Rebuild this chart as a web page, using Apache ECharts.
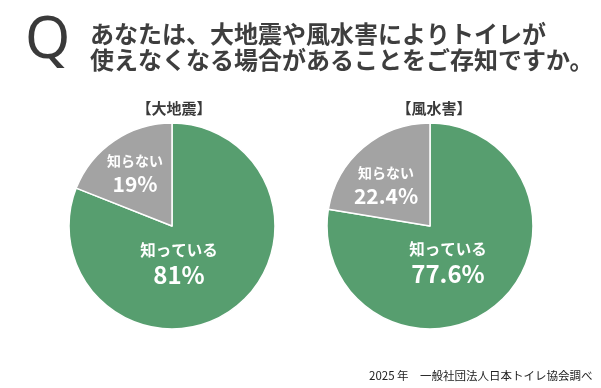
<!DOCTYPE html>
<html><head><meta charset="utf-8">
<script src="https://cdn.jsdelivr.net/npm/echarts@6/dist/echarts.min.js"></script>
<style>html,body{margin:0;padding:0;background:#fff}#c{width:601px;height:388px}</style>
</head><body><div id="c"></div>
<script>
const categories = ['知っている', '知らない'];
const quakeValues = [81, 19];
const floodValues = [77.6, 22.4];
const pieTitles = ['【大地震】', '【風水害】'];
const questionLines = ['あなたは、大地震や風水害によりトイレが', '使えなくなる場合があることをご存知ですか。'];
const sourceText = '2025 年　一般社団法人日本トイレ協会調べ';

const FONT = '"Noto Sans CJK JP", "Noto Sans", sans-serif';
const GREEN = '#579e6f';
const GRAY = '#a3a3a3';

function makePie(values, center, offsets) {
  return {
    type: 'pie',
    center: center,
    radius: 103,
    startAngle: 90,
    clockwise: true,
    silent: true,
    labelLine: { show: false },
    itemStyle: { borderColor: '#fff', borderWidth: 1.5 },
    data: categories.map((name, i) => ({
      name: name,
      value: values[i],
      itemStyle: { color: i === 0 ? GREEN : GRAY },
      label: {
        show: true,
        position: 'center',
        offset: offsets[i],
        formatter: '{n|{b}}\n{v|{c}%}',
        rich: {
          n: { fontFamily: FONT, fontSize: i === 0 ? 15.5 : 14, fontWeight: 'bold', color: '#fff', lineHeight: 23, align: 'center' },
          v: { fontFamily: FONT, fontSize: i === 0 ? 24 : 21, fontWeight: 'bold', color: '#fff', lineHeight: 25, align: 'center' }
        }
      }
    }))
  };
}

const chart = echarts.init(document.getElementById('c'), null, { renderer: 'canvas' });
chart.setOption({
  backgroundColor: '#fff',
  animation: false,
  title: [
    { text: 'Q', left: 20, top: 7, textStyle: { fontFamily: '"Noto Sans", sans-serif', fontSize: 58, fontWeight: 'normal', color: '#3a3a3a' } },
    { text: questionLines.join('\n'), left: 85, top: 16, textStyle: { fontFamily: FONT, fontSize: 24, fontWeight: 'bold', color: '#3e3e3e', lineHeight: 26 } },
    { text: pieTitles[0], left: 169, top: 96, textAlign: 'center', textStyle: { fontFamily: FONT, fontSize: 15, fontWeight: 'bold', color: '#3a3a3a' } },
    { text: pieTitles[1], left: 429, top: 96, textAlign: 'center', textStyle: { fontFamily: FONT, fontSize: 15, fontWeight: 'bold', color: '#3a3a3a' } },
    { text: sourceText, left: 364, top: 365, textStyle: { fontFamily: FONT, fontSize: 11.5, fontWeight: 'normal', color: '#222' } }
  ],
  series: [
    makePie(quakeValues, [172, 226], [[7, 37], [-37, -53]]),
    makePie(floodValues, [430, 226], [[18, 36], [-44, -41]])
  ]
});
</script></body></html>
